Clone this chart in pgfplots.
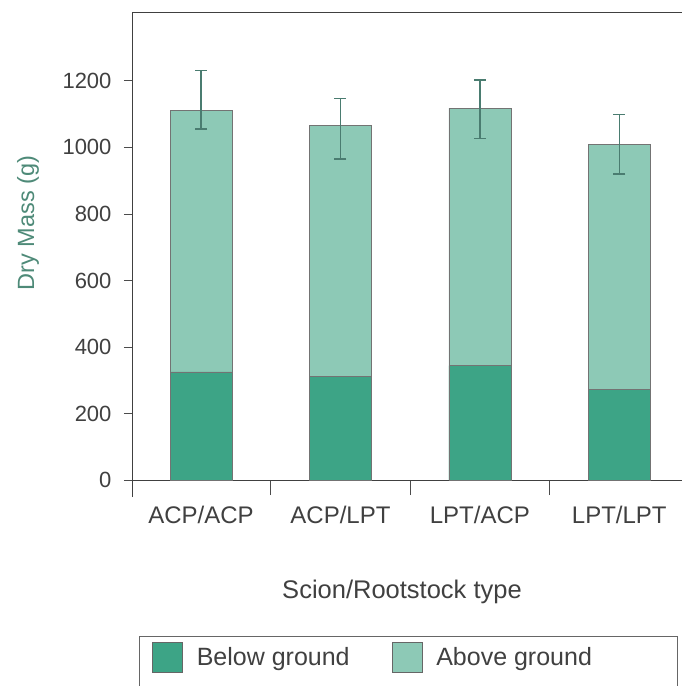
\documentclass[border=0pt]{standalone}
\usepackage{pgfplots}
\pgfplotsset{compat=1.18}
\usepackage{fontspec}
\setmainfont{Liberation Sans}
\definecolor{below}{HTML}{3DA486}
\definecolor{above}{HTML}{8DC9B6}
\definecolor{errc}{HTML}{4A7C70}
\definecolor{labc}{HTML}{404040}
\definecolor{ylabc}{HTML}{4E8A78}
\begin{document}
\begin{tikzpicture}
\useasboundingbox (-133pt,-206pt) rectangle (549pt,480pt);
\begin{axis}[
  at={(0pt,0pt)}, anchor=south west,
  scale only axis, width=549pt, height=468pt,
  xmin=-0.488, xmax=3.45, ymin=0, ymax=1407,
  axis x line*=box, axis y line*=left,
  xtick pos=bottom, ytick pos=left,
  axis line style={draw=black!75, line width=1pt},
  y axis line style={shorten <=-17pt},
  ytick={0,200,...,1200},
  xtick={0,1,2,3},
  xticklabels={ACP/ACP,ACP/LPT,LPT/ACP,LPT/LPT},
  minor xtick={0.5,1.5,2.5},
  tick align=outside,
  major tick length=9pt, minor tick length=15pt,
  major x tick style={draw=none},
  tick style={draw=black!70, line width=0.8pt},
  /pgf/number format/assume math mode=true,
  /pgf/number format/1000 sep={},
  yticklabel style={font=\fontsize{22}{26}\selectfont, text=labc, xshift=-9pt},
  xticklabel style={font=\fontsize{24}{28}\selectfont, text=labc, yshift=-14pt},
  xlabel={Scion/Rootstock type},
  ylabel={Dry Mass (g)},
  xlabel style={font=\fontsize{25.5}{30}\selectfont, at={(axis description cs:0.49,-0.239)}, anchor=center, text=labc},
  ylabel style={font=\fontsize{23.5}{28}\selectfont, at={(axis description cs:-0.191,0.549)}, anchor=center, rotate=0, text=ylabc},
  ybar, bar width=62pt, bar shift=0pt,
  reverse legend,
  legend columns=2,
  legend style={draw=none, fill=none, inner sep=0pt, at={(axis description cs:0.0346,-0.378)}, anchor=west,
    font=\fontsize{25}{30}\selectfont, text=labc,
    /tikz/every odd column/.append style={column sep=12pt},
    /tikz/every even column/.append style={column sep=40pt}},
  legend image code/.code={\draw[#1, draw=black!60] (0pt,-15pt) rectangle (30pt,15pt);},
]
\addplot[fill=above, draw=black!55, line width=0.6pt,
  error bars/.cd, y dir=both, y explicit,
  error bar style={draw=errc, line width=1.3pt},
  error mark options={rotate=90, mark size=6pt, draw=errc, line width=1.3pt}]
  coordinates {
  (0,1110) += (0,121) -= (0,55)
  (1,1065) += (0,81) -= (0,100)
  (2,1118) += (0,85) -= (0,92)
  (3,1010) += (0,88) -= (0,90)
  };
\addlegendentry{Above ground}
\addplot[fill=below, draw=black!55, line width=0.6pt]
  coordinates {(0,325) (1,311) (2,344) (3,273)};
\addlegendentry{Below ground}
\end{axis}
\draw[draw=black!60, line width=1pt] (7pt,-215pt) -- (7pt,-156pt) -- (544pt,-156pt) -- (544pt,-215pt);
\end{tikzpicture}
\end{document}
